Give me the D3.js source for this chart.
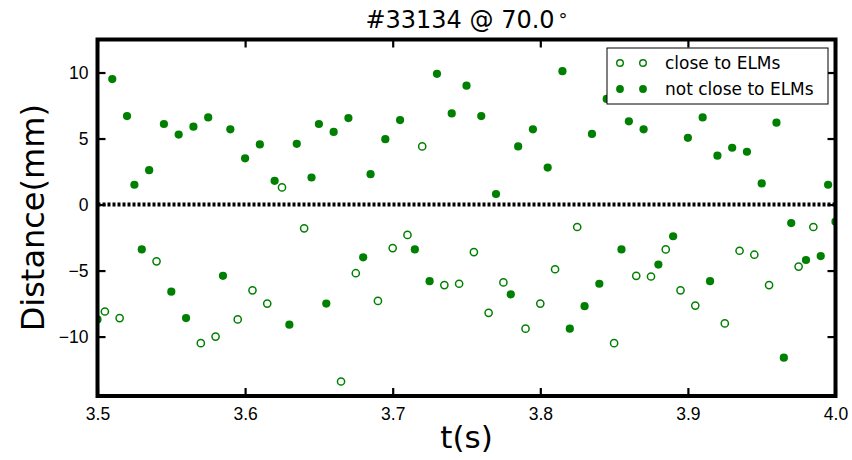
<!DOCTYPE html>
<html>
<head>
<meta charset="utf-8">
<script src="https://cdn.jsdelivr.net/npm/d3@7"></script>
<style>
  body { margin: 0; background: #fff; }
  svg { font-family: "DejaVu Sans", sans-serif; }
</style>
</head>
<body>
<svg class="main-svg" width="852" height="460"></svg>
<script>
// shot #33134, points close to ELMs (open markers)
const closeTimes = [3.505, 3.515, 3.540, 3.570, 3.580, 3.595, 3.605, 3.615, 3.625, 3.640,
  3.665, 3.675, 3.690, 3.700, 3.710, 3.720, 3.735, 3.745, 3.755, 3.765,
  3.775, 3.790, 3.800, 3.810, 3.825, 3.850, 3.865, 3.875, 3.885, 3.895,
  3.905, 3.925, 3.935, 3.945, 3.955, 3.975, 3.985]
const closeDist = [-8.1, -8.6, -4.3, -10.5, -10.0, -8.7, -6.5, -7.5, 1.3, -1.8,
  -13.4, -5.2, -7.3, -3.3, -2.3, 4.4, -6.1, -6.0, -3.6, -8.2,
  -5.9, -9.4, -7.5, -4.9, -1.7, -10.5, -5.4, -5.45, -3.4, -6.5,
  -7.65, -9.0, -3.5, -3.8, -6.1, -4.7, -1.7]

// points not close to ELMs (filled markers)
const farTimes = [3.500, 3.510, 3.520, 3.525, 3.530, 3.535, 3.545, 3.550, 3.555, 3.560,
  3.565, 3.575, 3.585, 3.590, 3.600, 3.610, 3.620, 3.630, 3.635, 3.645,
  3.650, 3.655, 3.660, 3.670, 3.680, 3.685, 3.695, 3.705, 3.715, 3.725,
  3.730, 3.740, 3.750, 3.760, 3.770, 3.780, 3.785, 3.795, 3.805, 3.815,
  3.820, 3.830, 3.835, 3.840, 3.845, 3.855, 3.860, 3.870, 3.880, 3.890,
  3.900, 3.910, 3.915, 3.920, 3.930, 3.940, 3.950, 3.960, 3.965, 3.970,
  3.980, 3.990, 3.995, 4.000]
const farDist = [-8.7, 9.5, 6.7, 1.5, -3.4, 2.6, 6.1, -6.6, 5.3, -8.6,
  5.9, 6.6, -5.4, 5.7, 3.5, 4.55, 1.8, -9.1, 4.6, 2.05,
  6.1, -7.5, 5.5, 6.55, -4.0, 2.3, 4.95, 6.4, -3.4, -5.8,
  9.9, 6.9, 9.0, 6.7, 0.8, -6.8, 4.4, 5.7, 2.8, 10.1,
  -9.4, -7.7, 5.35, -6.0, 8.0, -3.4, 6.3, 5.7, -4.55, -2.4,
  5.05, 6.6, -5.8, 3.7, 4.3, 4.0, 1.6, 6.2, -11.6, -1.4,
  -4.2, -3.9, 1.5, -1.3]

const xTicks = [3.5, 3.6, 3.7, 3.8, 3.9, 4.0]
const yTicks = [-10, -5, 0, 5, 10]
const legendLabels = ['close to ELMs', 'not close to ELMs']

const green = '#008000'
const margin = { top: 39.5, right: 16.5, bottom: 64, left: 97.5 }
const width = 852 - margin.left - margin.right
const height = 460 - margin.top - margin.bottom

const svg = d3.select('.main-svg')
const g = svg.append('g').attr('transform', `translate(${margin.left},${margin.top})`)

const x = d3.scaleLinear().domain([3.5, 4.0]).range([0, width])
const y = d3.scaleLinear().domain([-14.5, 12.5]).range([height, 0])

svg.append('defs').append('clipPath').attr('id', 'clip')
  .append('rect').attr('width', width).attr('height', height)

// axes with inward ticks on all four sides
function styleAxis (sel) {
  sel.select('.domain').remove()
  sel.selectAll('.tick line').attr('stroke', '#000').attr('stroke-width', 2.2)
  sel.selectAll('.tick text').attr('fill', '#000').style('font-size', '17.5px')
}
g.append('g').attr('transform', `translate(0,${height})`)
  .call(d3.axisBottom(x).tickValues(xTicks).tickFormat(d3.format('.1f')).tickSize(-8).tickPadding(12))
  .call(styleAxis)
g.append('g')
  .call(d3.axisTop(x).tickValues(xTicks).tickFormat('').tickSize(-8))
  .call(styleAxis)
g.append('g')
  .call(d3.axisLeft(y).tickValues(yTicks).tickSize(-8).tickPadding(9))
  .call(styleAxis)
g.append('g').attr('transform', `translate(${width},0)`)
  .call(d3.axisRight(y).tickValues(yTicks).tickFormat('').tickSize(-8))
  .call(styleAxis)

const plot = g.append('g').attr('clip-path', 'url(#clip)')

// dotted zero line
plot.append('line')
  .attr('x1', 0).attr('x2', width)
  .attr('y1', y(0)).attr('y2', y(0))
  .attr('stroke', '#000')
  .attr('stroke-width', 4)
  .attr('stroke-dasharray', '3,2')

plot.selectAll('.close')
  .data(closeTimes)
  .enter()
  .append('circle')
  .attr('class', 'close')
  .attr('cx', (d) => x(d))
  .attr('cy', (d, i) => y(closeDist[i]))
  .attr('r', 3.6)
  .attr('fill', 'none')
  .attr('stroke', green)
  .attr('stroke-width', 1.5)

plot.selectAll('.far')
  .data(farTimes)
  .enter()
  .append('circle')
  .attr('class', 'far')
  .attr('cx', (d) => x(d))
  .attr('cy', (d, i) => y(farDist[i]))
  .attr('r', 4.1)
  .attr('fill', green)

// frame
g.append('rect')
  .attr('width', width).attr('height', height)
  .attr('fill', 'none')
  .attr('stroke', '#000')
  .attr('stroke-width', 4)

// legend
const legend = svg.append('g').attr('transform', 'translate(607,48)')
legend.append('rect')
  .attr('width', 221).attr('height', 56)
  .attr('fill', '#fff')
  .attr('stroke', '#000')
  .attr('stroke-width', 1)
legendLabels.forEach((label, i) => {
  const row = legend.append('g').attr('transform', `translate(0,${15 + i * 26})`)
  ;[13, 36].forEach((cx) => {
    const c = row.append('circle').attr('cx', cx).attr('cy', 0)
    if (i === 0) {
      c.attr('r', 3.3).attr('fill', 'none').attr('stroke', green).attr('stroke-width', 1.4)
    } else {
      c.attr('r', 3.9).attr('fill', green)
    }
  })
  row.append('text')
    .attr('x', 58).attr('y', 6)
    .style('font-size', '17px')
    .text(label)
})

// title and labels
svg.append('text')
  .attr('x', margin.left + width / 2).attr('y', 28)
  .attr('text-anchor', 'middle')
  .style('font-size', '24px')
  .text('#33134 @ 70.0')
  .append('tspan').attr('dx', 4).attr('dy', -2).style('font-size', '18px').text('°')

svg.append('text')
  .attr('x', margin.left + width / 2).attr('y', 448)
  .attr('text-anchor', 'middle')
  .style('font-size', '31px')
  .text('t(s)')

svg.append('text')
  .attr('transform', `translate(44,${margin.top + height / 2}) rotate(-90)`)
  .attr('text-anchor', 'middle')
  .style('font-size', '32px')
  .text('Distance(mm)')
</script>
</body>
</html>
